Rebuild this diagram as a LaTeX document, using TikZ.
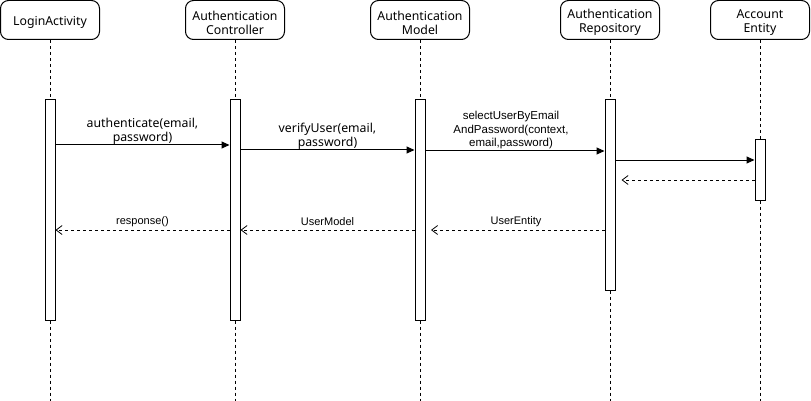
\documentclass[tikz,border=0pt]{standalone}
\usepackage{fontspec}
\setmainfont{Noto Sans}
\newfontfamily\arialf{Liberation Sans}
\usetikzlibrary{arrows.meta}
\begin{document}
\begin{tikzpicture}[x=1pt,y=-1pt,
  hdr/.style={draw, line width=1pt, rounded corners=8pt, fill=white, minimum width=99pt, minimum height=39pt, inner sep=0pt},
  htxt/.style={align=center, inner sep=0pt, font=\fontsize{12.3}{14}\selectfont},
  actbar/.style={draw, line width=1pt, fill=white, minimum width=10pt, inner sep=0pt},
  life/.style={line width=0.8pt, dash pattern=on 3pt off 3pt},
  msg/.style={line width=1pt, -{Triangle[length=8pt,width=7pt]}},
  ret/.style={line width=0.8pt, dash pattern=on 3pt off 3pt, -{Straight Barb[length=6pt,width=9pt,line width=0.8pt]}},
  lbl/.style={align=center, inner sep=0pt, font=\fontsize{12.3}{14}\selectfont},
  albl/.style={align=center, inner sep=0pt, font=\arialf\fontsize{11.5}{13.5}\selectfont},
  rlbl/.style={inner sep=0pt, font=\arialf\fontsize{11}{13}\selectfont}]
\useasboundingbox (0,0) rectangle (811,401);

% headers
\node[hdr] (la) at (50,20) {};
\node[htxt] (laT) at ([yshift=-2.5pt]la.center) {LoginActivity};
\node[hdr] (ac) at (235,20) {};
\node[htxt] (acT) at ([yshift=-2.5pt]ac.center) {Authentication\\Controller};
\node[hdr] (am) at (420,20) {};
\node[htxt] (amT) at ([yshift=-2.5pt]am.center) {Authentication\\Model};
\node[hdr] (ar) at (610,20) {};
\node[htxt] (arT) at ([yshift=-2.5pt]ar.center) {Authentication\\Repository};
\node[hdr] (ae) at (760,20) {};
\node[htxt] (aeT) at ([yshift=-2.5pt]ae.center) {Account\\Entity};

% end coordinates of lifelines
\coordinate (laE) at (50,401);
\coordinate (acE) at (235,401);
\coordinate (amE) at (420,401);
\coordinate (arE) at (610,401);
\coordinate (aeE) at (760,401);

% activation bars
\node[actbar, minimum height=220pt] (bla) at (50,210) {};
\node[actbar, minimum height=220pt] (bac) at (235,210) {};
\node[actbar, minimum height=220pt] (bam) at (420,210) {};
\node[actbar, minimum height=190pt] (bar) at (610,195) {};
\node[actbar, minimum height=60pt] (bae) at (760,170) {};

% lifelines
\draw[life] (la.south) -- (bla.north);
\draw[life] (bla.south) -- (laE);
\draw[life] (ac.south) -- (bac.north);
\draw[life] (bac.south) -- (acE);
\draw[life] (am.south) -- (bam.north);
\draw[life] (bam.south) -- (amE);
\draw[life] (ar.south) -- (bar.north);
\draw[life] (bar.south) -- (arE);
\draw[life] (ae.south) -- (bae.north);
\draw[life] (bae.south) -- (aeE);

% messages
\draw[msg] (bla.east |- 0,145) -- (bac.west |- 0,145);
\node[lbl, anchor=south] (m1) at (142.5,144.5) {authenticate(email,\\password)};
\draw[msg] (bac.east |- 0,150) -- (bam.west |- 0,150);
\node[lbl, anchor=south] (m2) at (327.5,149.5) {verifyUser(email,\\password)};
\draw[msg] (bam.east |- 0,151) -- (bar.west |- 0,151);
\node[albl, anchor=south] (m3) at (511,149.5) {selectUserByEmail\\AndPassword(context,\\email,password)};
\draw[msg] (bar.east |- 0,160) -- (bae.west |- 0,160);
\draw[ret, shorten >=6pt] (bae.west |- 0,180) -- (bar.east |- 0,180);

% returns
\draw[ret, shorten >=5.5pt] (bar.west |- 0,230) -- (bam.east |- 0,230);
\node[rlbl] (r1) at (516,222) {UserEntity};
\draw[ret] (bam.west |- 0,230) -- (bac.east |- 0,230);
\node[rlbl] (r2) at (327.5,222) {UserModel};
\draw[ret] (bac.west |- 0,230) -- (bla.east |- 0,230);
\node[rlbl] (r3) at (142.5,222) {response()};
\end{tikzpicture}
\end{document}
